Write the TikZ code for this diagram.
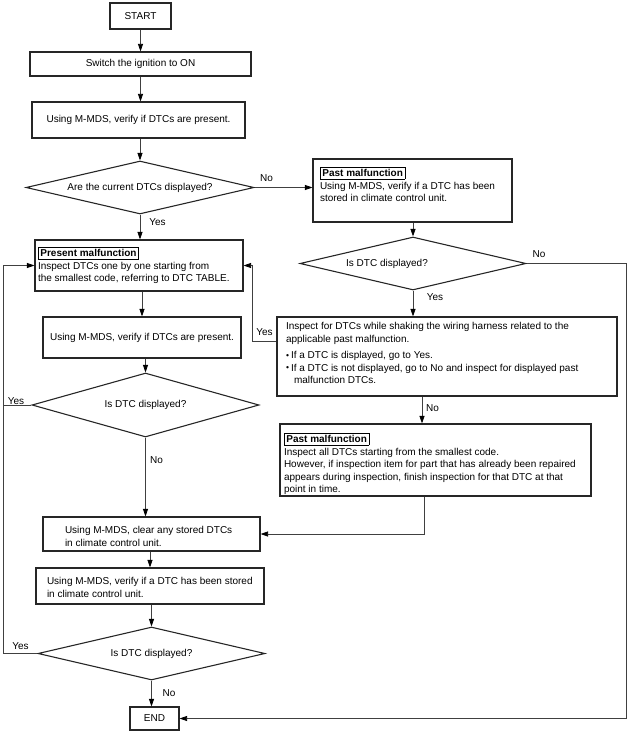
\documentclass[tikz,border=0pt]{standalone}
\usepackage{fontspec}
\setmainfont{Liberation Sans}
\usetikzlibrary{arrows.meta,shapes.geometric}
\newcommand\contentbox[3]{\parbox[c][#2][t]{#1}{\begin{tabular}[t]{@{}l@{}}#3\end{tabular}}}
\newcommand\titlebox[1]{{\setlength\fboxsep{1.8pt}\setlength\fboxrule{0.6pt}\fbox{\bfseries #1}}}
\newcommand\bul{\makebox[5pt][l]{\raisebox{0.3pt}{\fontsize{8.5}{8.5}\selectfont\textbullet}}}
\begin{document}
\begin{tikzpicture}[x=1pt,y=-1pt, font=\fontsize{10}{12.5}\selectfont,
  box/.style={draw=black!85, line width=1.1pt, inner sep=0pt},
  dia/.style={diamond, draw=black!85, line width=1.1pt, inner sep=0pt, aspect=4},
  conn/.style={draw=black!75, line width=0.8pt},
  arr/.style={conn, -{Triangle[length=7.5pt,width=5pt,color=black]}},
  lbl/.style={inner sep=0pt}
]
\useasboundingbox (0,0) rectangle (629,733);

% left column
\node[box, minimum width=61pt, minimum height=26pt] (start) at (140.5,16) {START};
\node[box, minimum width=221pt, minimum height=24pt] (ign) at (140.5,64) {Switch the ignition to ON};
\node[box, minimum width=213pt, minimum height=36pt] (chk1) at (138.5,120) {Using M-MDS, verify if DTCs are present.};
\node[dia, minimum width=228pt, minimum height=53pt] (d1) at (140,187.5) {Are the current DTCs displayed?};

\node[box, inner xsep=3pt, inner ysep=7pt] (present) at (139,265.5)
  {\contentbox{202pt}{37pt}{\titlebox{Present malfunction}\\
   Inspect DTCs one by one starting from\\
   the smallest code, referring to DTC TABLE.}};
\node[box, minimum width=198pt, minimum height=41pt] (chk2) at (142,337.5) {Using M-MDS, verify if DTCs are present.};
\node[dia, minimum width=227pt, minimum height=64pt] (d3) at (145.5,405) {Is DTC displayed?};

\node[box, inner xsep=22pt, inner ysep=8pt] (clear) at (151.5,534)
  {\contentbox{173pt}{18pt}{Using M-MDS, clear any stored DTCs\\ in climate control unit.}};
\node[box, inner xsep=11pt, inner ysep=8pt] (verify) at (150,586)
  {\contentbox{206pt}{20pt}{Using M-MDS, verify if a DTC has been stored\\ in climate control unit.}};
\node[dia, minimum width=227pt, minimum height=53pt] (d4) at (151.5,653.5) {Is DTC displayed?};
\node[box, minimum width=49pt, minimum height=23pt] (fin) at (154.5,718.5) {END};

% right column
\node[box, inner xsep=7pt, inner ysep=8pt] (past1) at (412.5,190.5)
  {\contentbox{185pt}{47pt}{\titlebox{Past malfunction}\\
   Using M-MDS, verify if a DTC has been\\
   stored in climate control unit.}};
\node[dia, minimum width=226pt, minimum height=53pt] (d2) at (413,263.5) {Is DTC displayed?\hspace*{52pt}};
\node[box, inner xsep=9pt, inner ysep=4pt] (shake) at (447,356.5)
  {\contentbox{322pt}{71pt}{Inspect for DTCs while shaking the wiring harness related to the\\
   applicable past malfunction.\\[4pt]
   \bul If a DTC is displayed, go to Yes.\\
   \bul If a DTC is not displayed, go to No and inspect for displayed past\\
   \hspace*{8pt}malfunction DTCs.}};
\node[box, inner xsep=4pt, inner ysep=9pt] (past2) at (435.5,460)
  {\contentbox{303pt}{54pt}{\titlebox{Past malfunction}\\
   Inspect all DTCs starting from the smallest code.\\
   However, if inspection item for part that has already been repaired\\
   appears during inspection, finish inspection for that DTC at that\\
   point in time.}};

% helper coordinates
\coordinate (lx) at (3,0);
\coordinate (rx) at (252,0);
\coordinate (sy) at (0,341);
\coordinate (far) at (626,0);
\coordinate (sx) at (422,0);
\coordinate (px) at (424,0);

% connectors
\draw[arr] (start) -- (ign);
\draw[arr] (ign.south -| start) -- (chk1.north -| start);
\draw[arr] (chk1.south -| d1.north) -- (d1.north);
\draw[arr] (d1.east) -- (d1.east -| past1.west);
\draw[arr] (d1.south) -- (d1.south |- present.north);
\draw[arr] (present.south -| chk2.north) -- (chk2.north);
\draw[arr] (chk2.south -| d3.north) -- (d3.north);
\draw[arr] (d3.south) -- (d3.south |- clear.north);
\draw[arr] (d4.west) -- (lx |- d4.west) -- (lx |- present.west) -- (present.west);
\draw[conn] (d3.west) -- (lx |- d3.west);
\draw[arr] (clear.south -| verify.north) -- (verify.north);
\draw[arr] (verify.south -| d4.north) -- (d4.north);
\draw[arr] (d4.south) -- (d4.south |- fin.north);

\draw[arr] (past1.south -| d2.north) -- (d2.north);
\draw[arr] (d2.east) -- (far |- d2.east) -- (far |- fin.east) -- (fin.east);
\draw[arr] (d2.south) -- (d2.south |- shake.north);
\draw[arr] (shake.west |- sy) -- (rx |- sy) -- (rx |- present.east) -- (present.east);
\draw[arr] (shake.south -| sx) -- (past2.north -| sx);
\draw[arr] (past2.south -| px) -- (px |- clear.east) -- (clear.east);

% labels
\node[lbl] (l1) at (266.5,178) {No};
\node[lbl] (l2) at (157.5,222) {Yes};
\node[lbl] (l3) at (539,254) {No};
\node[lbl] (l4) at (435,297) {Yes};
\node[lbl] (l5) at (264.5,332) {Yes};
\node[lbl] (l6) at (432.5,408) {No};
\node[lbl] (l7) at (16,401) {Yes};
\node[lbl] (l8) at (156.5,460) {No};
\node[lbl] (l9) at (20.5,646) {Yes};
\node[lbl] (l10) at (169,693) {No};
\end{tikzpicture}
\end{document}
